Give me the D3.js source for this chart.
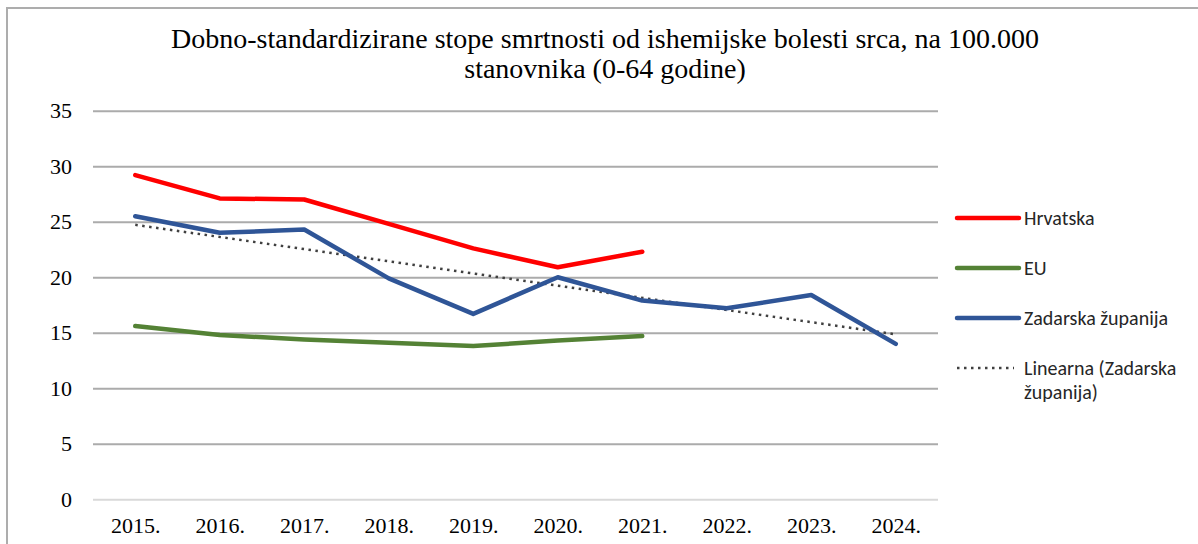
<!DOCTYPE html>
<html>
<head>
<meta charset="utf-8">
<script src="https://cdn.jsdelivr.net/npm/d3@7"></script>
<style>
  html, body { margin: 0; padding: 0; background: #fff; }
  svg { display: block; }
</style>
</head>
<body>
<svg id="chart" width="1198" height="544"></svg>
<script>
// Age-standardised ischaemic heart disease mortality, per 100,000 (ages 0-64)
const years = ["2015.", "2016.", "2017.", "2018.", "2019.", "2020.", "2021.", "2022.", "2023.", "2024."];
const hrvatska = [29.2, 27.1, 27.0, 24.8, 22.6, 20.9, 22.3];
const eu = [15.6, 14.8, 14.4, 14.1, 13.8, 14.3, 14.7];
const zadarska = [25.5, 24.0, 24.3, 19.9, 16.7, 20.0, 17.9, 17.2, 18.4, 14.0];
const yTicks = [0, 5, 10, 15, 20, 25, 30, 35];
const titleLines = [
  "Dobno-standardizirane stope smrtnosti od ishemijske bolesti srca, na 100.000",
  "stanovnika (0-64 godine)"
];
const legendItems = [
  { lines: ["Hrvatska"], color: "#FF0000", type: "solid" },
  { lines: ["EU"], color: "#548235", type: "solid" },
  { lines: ["Zadarska županija"], color: "#2F5597", type: "solid" },
  { lines: ["Linearna (Zadarska", "županija)"], color: "#404040", type: "dotted" }
];

const SERIF = '"Liberation Serif", "Times New Roman", serif';
const SANS = 'Carlito, Calibri, "Liberation Sans", sans-serif';

const svg = d3.select("#chart");

// outer chart frame
svg.append("rect")
  .attr("x", 7).attr("y", 8)
  .attr("width", 1300).attr("height", 600)
  .attr("fill", "#fff")
  .attr("stroke", "#ADADAD")
  .attr("stroke-width", 2);

const plot = { left: 93, right: 938, top: 110.7, bottom: 499.3 };

const x = d3.scalePoint()
  .domain(years)
  .range([plot.left, plot.right])
  .padding(0.5);

const y = d3.scaleLinear()
  .domain([0, 35])
  .range([plot.bottom, plot.top]);

// title
svg.append("g")
  .selectAll("text")
  .data(titleLines)
  .join("text")
  .attr("x", 605)
  .attr("y", (d, i) => 48 + i * 30)
  .attr("text-anchor", "middle")
  .style("font-family", SERIF)
  .style("font-size", "28px")
  .style("fill", "#000")
  .text(d => d);

// y axis with horizontal gridlines
const yAxis = svg.append("g")
  .attr("transform", `translate(${plot.left},0)`)
  .call(d3.axisLeft(y)
    .tickValues(yTicks)
    .tickFormat(d3.format("d"))
    .tickSizeInner(-(plot.right - plot.left))
    .tickSizeOuter(0)
    .tickPadding(21));
yAxis.select(".domain").remove();
yAxis.selectAll(".tick line")
  .attr("stroke", d => d === 0 ? "#D9D9D9" : "#ABABAB")
  .attr("stroke-width", 2);
yAxis.selectAll(".tick text")
  .style("font-family", SERIF)
  .style("font-size", "22px")
  .style("fill", "#000");

// x axis labels
const xAxis = svg.append("g")
  .attr("transform", `translate(0,${plot.bottom})`)
  .call(d3.axisBottom(x).tickSize(0).tickPadding(18));
xAxis.select(".domain").remove();
xAxis.selectAll(".tick text")
  .style("font-family", SERIF)
  .style("font-size", "22px")
  .style("fill", "#000");

// linear trend of the Zadar county series (least squares)
const idx = zadarska.map((v, i) => i);
const mx = d3.mean(idx), my = d3.mean(zadarska);
const slope = d3.sum(idx, i => (i - mx) * (zadarska[i] - my)) / d3.sum(idx, i => (i - mx) ** 2);
const intercept = my - slope * mx;
const trend = [0, zadarska.length - 1].map(i => ({ year: years[i], value: intercept + slope * i }));

const line = d3.line()
  .x(d => x(d.year))
  .y(d => y(d.value));

const toPoints = arr => arr.map((v, i) => ({ year: years[i], value: v }));

svg.append("path")
  .datum(trend)
  .attr("d", line)
  .attr("fill", "none")
  .attr("stroke", "#404040")
  .attr("stroke-width", 2.5)
  .attr("stroke-dasharray", "2.5 4.5");

const series = [
  { values: eu, color: "#548235" },
  { values: hrvatska, color: "#FF0000" },
  { values: zadarska, color: "#2F5597" }
];

svg.append("g")
  .selectAll("path")
  .data(series)
  .join("path")
  .attr("d", d => line(toPoints(d.values)))
  .attr("fill", "none")
  .attr("stroke", d => d.color)
  .attr("stroke-width", 4.5)
  .attr("stroke-linejoin", "round")
  .attr("stroke-linecap", "round");

// legend
const legend = svg.append("g").attr("transform", "translate(957,0)");
const legendY = [218, 268, 318, 368];
legendItems.forEach((item, i) => {
  const g = legend.append("g").attr("transform", `translate(0,${legendY[i]})`);
  if (item.type === "solid") {
    g.append("line")
      .attr("x1", 0).attr("x2", 62)
      .attr("stroke", item.color)
      .attr("stroke-width", 4.5)
      .attr("stroke-linecap", "round");
  } else {
    g.append("line")
      .attr("x1", 0).attr("x2", 57)
      .attr("stroke", item.color)
      .attr("stroke-width", 2.5)
      .attr("stroke-dasharray", "2.5 4.5");
  }
  g.selectAll("text")
    .data(item.lines)
    .join("text")
    .attr("x", 67)
    .attr("y", (d, j) => j * 24)
    .attr("dy", "0.35em")
    .style("font-family", SANS)
    .style("font-size", "20px")
    .style("fill", "#262626")
    .text(d => d);
});
</script>
</body>
</html>
